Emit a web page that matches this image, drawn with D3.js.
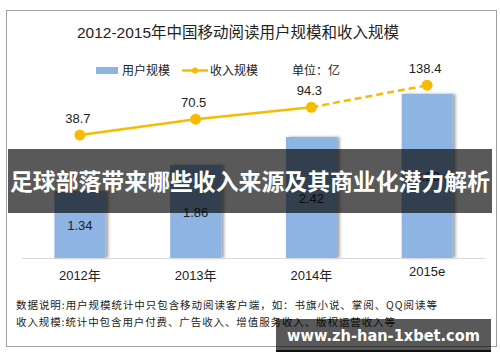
<!DOCTYPE html>
<html>
<head>
<meta charset="utf-8">
<script src="https://cdn.jsdelivr.net/npm/d3@7"></script>
<style>
  body { margin: 0; background: #fff; }
  svg { display: block; font-family: "Liberation Sans", "Noto Sans CJK SC", sans-serif; }
</style>
</head>
<body>
<div id="chart"></div>
<script>
'use strict';

// Data
var years = ['2012年', '2013年', '2014年', '2015e'];
var users = [1.34, 1.86, 2.42, 3.28];          // 用户规模
var revenue = [38.7, 70.5, 94.3, 138.4];       // 收入规模 (亿)
var notes = [
  '数据说明:用户规模统计中只包含移动阅读客户端，如：书旗小说、掌阅、QQ阅读等',
  '收入规模:统计中包含用户付费、广告收入、增值服务收入、版权运营收入等'
];

var width = 500, height = 362;
var svg = d3.select('#chart').append('svg')
  .attr('width', width)
  .attr('height', height);

// drop shadow for the bars
var defs = svg.append('defs');
var f = defs.append('filter').attr('id', 'shadow')
  .attr('x', '-20%').attr('y', '-10%').attr('width', '150%').attr('height', '120%');
f.append('feDropShadow').attr('dx', 3).attr('dy', 0).attr('stdDeviation', 1.5)
  .attr('flood-color', '#000').attr('flood-opacity', 0.35);

// frame
svg.append('rect').attr('x', 6.5).attr('y', 10.5).attr('width', 490).attr('height', 336)
  .attr('fill', '#fff').attr('stroke', '#a0a0a0');

// title
svg.append('text').attr('x', 238).attr('y', 38).attr('text-anchor', 'middle')
  .attr('font-size', 15.5).attr('fill', '#222')
  .text('2012-2015年中国移动阅读用户规模和收入规模');

// scales
var x = d3.scaleBand().domain(years).range([22, 485]).paddingInner(0.56).paddingOuter(0.28);
var y = d3.scaleLinear().domain([0, 4]).range([258, 58]);
var y2 = d3.scaleLinear().domain([0, 200]).range([154.4, 54.4]);

// bars
var bars = svg.append('g');
bars.selectAll('rect').data(users).enter().append('rect')
  .attr('x', function(d, i) { return x(years[i]); })
  .attr('y', function(d) { return y(d); })
  .attr('width', x.bandwidth())
  .attr('height', function(d) { return y(0) - y(d); })
  .attr('fill', '#8db4e2')
  .attr('filter', 'url(#shadow)');

bars.selectAll('text').data(users).enter().append('text')
  .attr('x', function(d, i) { return x(years[i]) + x.bandwidth() / 2; })
  .attr('y', function(d) { return (y(d) + y(0)) / 2 + 5; })
  .attr('text-anchor', 'middle').attr('font-size', 13).attr('fill', '#222')
  .text(function(d) { return d.toFixed(2); });

// baseline
svg.append('line').attr('x1', 22).attr('x2', 485).attr('y1', y(0) + 0.5).attr('y2', y(0) + 0.5)
  .attr('stroke', '#d9d9d9');

// category labels
var xAxis = svg.append('g').attr('transform', 'translate(0,' + y(0) + ')')
  .call(d3.axisBottom(x).tickSize(0).tickPadding(13));
xAxis.select('.domain').remove();
xAxis.selectAll('text').attr('font-size', 13).attr('fill', '#222')
  .attr('font-family', '"Liberation Sans", "Noto Sans CJK SC", sans-serif')
  .attr('dy', function(d) { return d === '2015e' ? '0.4em' : '0.71em'; });

// revenue line
var cx = function(i) { return x(years[i]) + x.bandwidth() / 2; };
var line = d3.line().x(function(d) { return cx(d.i); }).y(function(d) { return y2(d.v); });
var pts = revenue.map(function(v, i) { return { v: v, i: i }; });
var lc = '#f7bb00';

svg.append('path').datum(pts.slice(0, 3)).attr('d', line)
  .attr('fill', 'none').attr('stroke', lc).attr('stroke-width', 2.5);
svg.append('path').datum(pts.slice(2)).attr('d', line)
  .attr('fill', 'none').attr('stroke', lc).attr('stroke-width', 2.5)
  .attr('stroke-dasharray', '7,4');

svg.selectAll('circle.dot').data(pts).enter().append('circle')
  .attr('class', 'dot')
  .attr('cx', function(d) { return cx(d.i); })
  .attr('cy', function(d) { return y2(d.v); })
  .attr('r', 5.5).attr('fill', lc);

svg.selectAll('text.rv').data(pts).enter().append('text')
  .attr('class', 'rv')
  .attr('x', function(d) { return cx(d.i) - 2; })
  .attr('y', function(d) { return y2(d.v) - 12; })
  .attr('text-anchor', 'middle').attr('font-size', 13).attr('fill', '#222')
  .text(function(d) { return d.v.toFixed(1); });

// legend
var lg = svg.append('g').attr('font-size', 12).attr('fill', '#222');
lg.append('rect').attr('x', 96).attr('y', 67).attr('width', 22).attr('height', 7).attr('fill', '#8db4e2');
lg.append('text').attr('x', 122).attr('y', 75).text('用户规模');
lg.append('line').attr('x1', 182).attr('x2', 208).attr('y1', 70.5).attr('y2', 70.5)
  .attr('stroke', lc).attr('stroke-width', 2.5);
lg.append('circle').attr('cx', 195).attr('cy', 70.5).attr('r', 3).attr('fill', lc);
lg.append('text').attr('x', 210).attr('y', 75).text('收入规模');
lg.append('text').attr('x', 292).attr('y', 75).text('单位：亿');

// footnotes
svg.selectAll('text.note').data(notes).enter().append('text')
  .attr('class', 'note')
  .attr('x', 16)
  .attr('y', function(d, i) { return 309 + i * 17; })
  .attr('font-size', 10.5).attr('fill', '#222')
  .attr('font-family', '"Noto Sans CJK SC", sans-serif')
  .attr('textLength', function(d, i) { return i === 0 ? 421 : 379; })
  .attr('lengthAdjust', 'spacing')
  .text(function(d) { return d; });

// banner overlay
svg.append('rect').attr('x', 8).attr('y', 149).attr('width', 484).attr('height', 64)
  .attr('fill', '#000').attr('fill-opacity', 0.65);
svg.append('text').attr('x', 250).attr('y', 190).attr('text-anchor', 'middle')
  .attr('font-family', '"Noto Sans CJK SC", sans-serif')
  .attr('font-size', 23).attr('font-weight', 'bold').attr('fill', '#fff')
  .attr('textLength', 480).attr('lengthAdjust', 'spacingAndGlyphs')
  .text('足球部落带来哪些收入来源及其商业化潜力解析');

// watermark
svg.append('rect').attr('x', 276).attr('y', 319).attr('width', 215).attr('height', 31)
  .attr('fill', '#000').attr('fill-opacity', 0.65);
svg.append('rect').attr('x', 276).attr('y', 350).attr('width', 215).attr('height', 2)
  .attr('fill', '#111');
svg.append('text').attr('x', 383.5).attr('y', 341).attr('text-anchor', 'middle')
  .attr('font-family', '"DejaVu Sans", sans-serif')
  .attr('font-size', 16.5).attr('font-weight', 'bold').attr('fill', '#fff')
  .attr('textLength', 193).attr('lengthAdjust', 'spacingAndGlyphs')
  .text('www.zh-han-1xbet.com');
</script>
</body>
</html>
